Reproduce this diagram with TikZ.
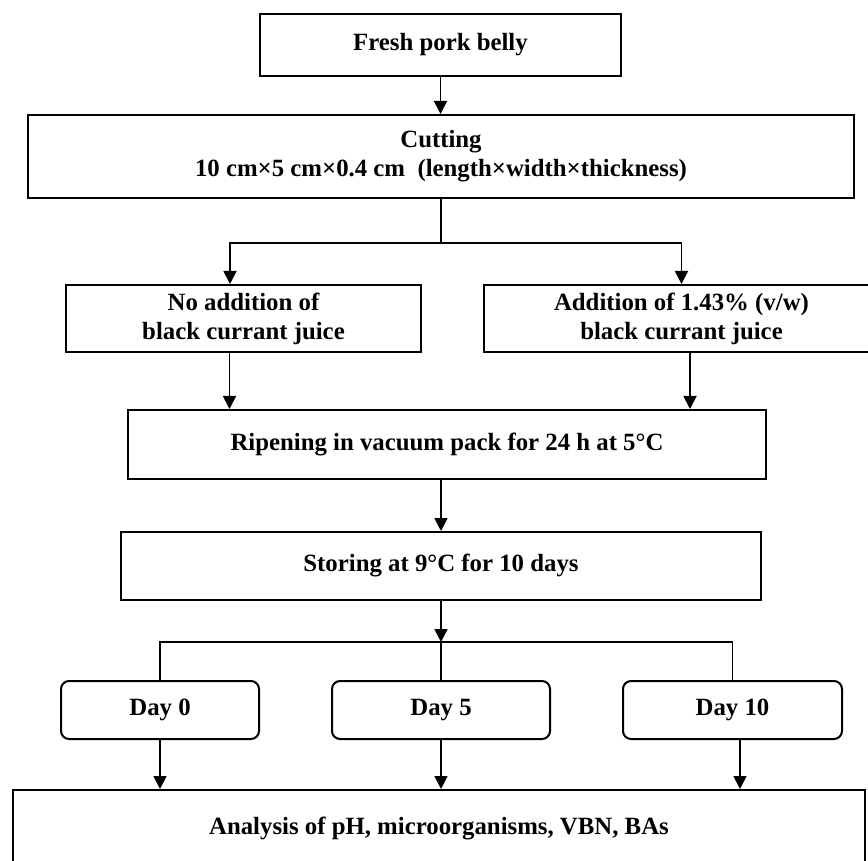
\documentclass[tikz,border=0pt]{standalone}
\usepackage{fontspec}
\setmainfont{Liberation Serif}
\usetikzlibrary{arrows.meta}

\begin{document}
\begin{tikzpicture}[
  x=0.5pt, y=-0.5pt,
  >={Triangle[width=6.5pt,length=6.5pt]},
  box/.style={draw, line width=1pt, rectangle, align=center, inner sep=0pt,
    font=\bfseries\fontsize{12.4}{14.5}\selectfont},
  daybox/.style={box, rounded corners=4pt, minimum height=29pt},
  every path/.append style={line width=0.9pt}
]
  \useasboundingbox (0,0) rectangle (868,861);

  \node[box, minimum width=180.5pt, minimum height=31pt] (fresh) at (440.5,45) {Fresh pork belly};
  \node[box, minimum width=413pt, minimum height=41.5pt] (cut) at (441,156.5)
    {Cutting\\10 cm×5 cm×0.4 cm\ \ (length×width×thickness)};
  \node[box, minimum width=177.5pt, minimum height=33.5pt] (noadd) at (243.5,318.5)
    {No addition of\\black currant juice};
  \node[box, minimum width=197.5pt, minimum height=33.5pt] (add) at (681.5,318.5)
    {Addition of 1.43\% (v/w)\\black currant juice};
  \node[box, minimum width=319pt, minimum height=34.5pt] (ripen) at (447,444.5)
    {Ripening in vacuum pack for 24 h at 5°C};
  \node[box, minimum width=320pt, minimum height=34pt] (store) at (441,566)
    {Storing at 9°C for 10 days};
  \node[daybox, minimum width=99pt] (day0) at (160,710) {Day 0};
  \node[daybox, minimum width=109pt] (day5) at (441,710) {Day 5};
  \node[daybox, minimum width=109.5pt] (day10) at (732.5,710) {Day 10};
  \node[box, minimum width=426pt, minimum height=39pt] (analysis) at (439,829)
    {Analysis of pH, microorganisms, VBN, BAs};

  \coordinate (split1) at (441,243);
  \coordinate (split2) at (441,642);

  \draw[->] (fresh) -- (fresh.south |- cut.north);
  \draw (cut.south) -- (split1);
  \draw[->] (split1) -| ([xshift=-6.75pt]noadd.north);
  \draw[->] (split1) -| (add.north);
  \draw[->] ([xshift=-7pt]noadd.south) -- ([xshift=-7pt]noadd.south |- ripen.north);
  \draw[->] ([xshift=4.25pt]add.south) -- ([xshift=4.25pt]add.south |- ripen.north);
  \draw[->] (store.north |- ripen.south) -- (store.north);
  \draw[->] (store.south) -- (split2);
  \draw (day0.north) |- (split2) -| (day10.north);
  \draw (split2) -- (day5.north);
  \draw[->] (day0.south) -- (day0.south |- analysis.north);
  \draw[->] (day5.south) -- (day5.south |- analysis.north);
  \draw[->] ([xshift=3.75pt]day10.south) -- ([xshift=3.75pt]day10.south |- analysis.north);
\end{tikzpicture}
\end{document}
